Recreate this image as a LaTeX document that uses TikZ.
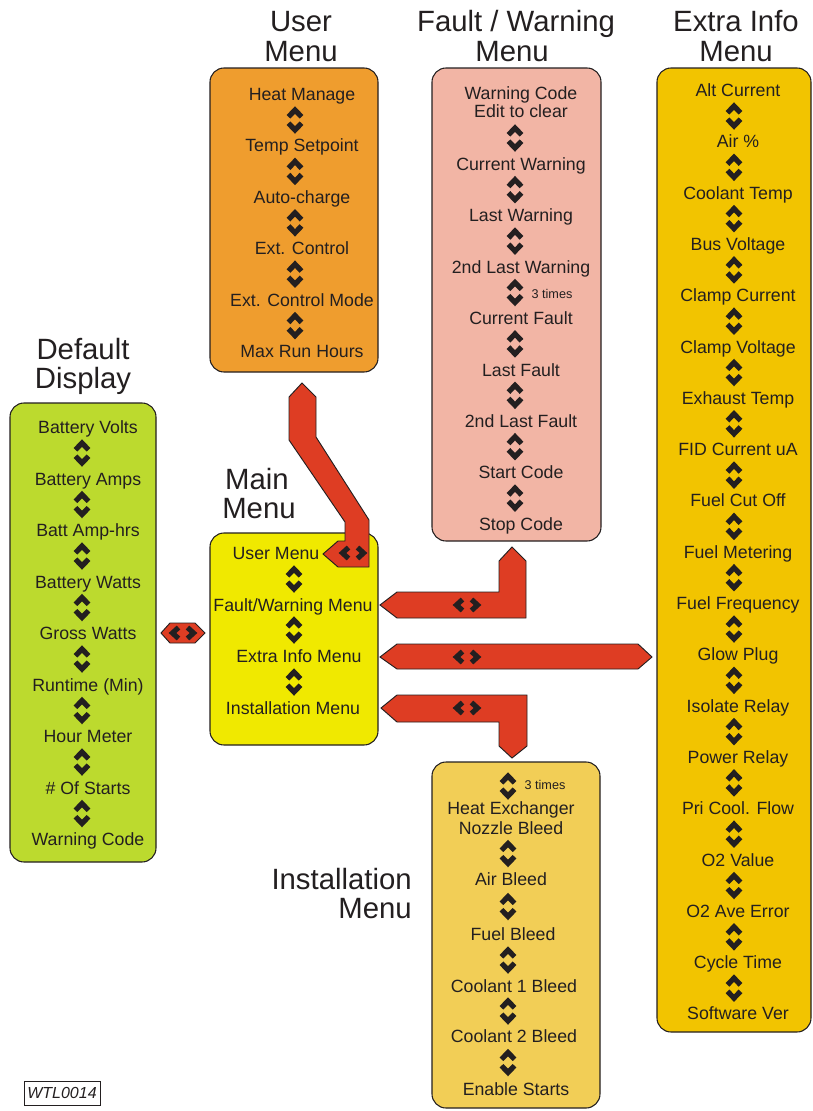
\documentclass[tikz,border=0pt]{standalone}
\usepackage{fontspec}
\setmainfont{Liberation Sans}
\definecolor{txt}{HTML}{231F20}
\definecolor{userC}{HTML}{EF9D2E}
\definecolor{faultC}{HTML}{F2B5A5}
\definecolor{extraC}{HTML}{F2C400}
\definecolor{defaultC}{HTML}{BCDA2E}
\definecolor{mainC}{HTML}{F0E900}
\definecolor{installC}{HTML}{F2CE56}
\definecolor{redC}{HTML}{DE3D23}
\tikzset{
  chev/.style={draw=txt,line width=3.9pt,line join=miter,miter limit=10,line cap=butt},
  ud/.pic={\draw[chev] (-6.5,-3.2)--(0,-10)--(6.5,-3.2); \draw[chev] (-6.5,3.2)--(0,10)--(6.5,3.2);},
  lr/.pic={\draw[chev] (-4.5,-5.5)--(-10.5,0)--(-4.5,5.5); \draw[chev] (4.5,-5.5)--(10.5,0)--(4.5,5.5);}
}
\begin{document}
\begin{tikzpicture}[x=0.75pt,y=-0.75pt,
 box/.style={draw=txt,line width=0.8pt,rounded corners=10.5pt},
 item/.style={font=\fontsize{13.3}{15}\selectfont,text=txt,inner sep=0pt,anchor=base,yshift=-4.9pt},
 head/.style={font=\fontsize{22}{24}\selectfont,text=txt,inner sep=0pt,anchor=base},
 small/.style={font=\fontsize{9.5}{11}\selectfont,text=txt,inner sep=0pt},
 redsh/.style={fill=redC,draw=txt,line width=0.7pt,line join=miter}]
\useasboundingbox (0,0) rectangle (813,1111);

% ---------- boxes ----------
\path[box,fill=userC]    (210,68)  rectangle (378,372);
\path[box,fill=faultC]   (432,68)  rectangle (601,541);
\path[box,fill=extraC]   (657,68)  rectangle (811,1032);
\path[box,fill=defaultC] (10,403)  rectangle (156,862);
\path[box,fill=mainC]    (210,533) rectangle (378,745);
\path[box,fill=installC] (432,762) rectangle (600,1108);

% ---------- headings ----------
\node[head] (hU1) at (301,31) {User};
\node[head] (hU2) at (301,61) {Menu};
\node[head] (hF1) at (516,31) {Fault / Warning};
\node[head] (hF2) at (512,61) {Menu};
\node[head] (hE1) at (736,31) {Extra Info};
\node[head] (hE2) at (736,61) {Menu};
\node[head] (hD1) at (83,359) {Default};
\node[head] (hD2) at (83,388) {Display};
\node[head] (hM1) at (257,489) {Main};
\node[head] (hM2) at (259,518) {Menu};
\node[head,anchor=base east] (hI1) at (412,889) {Installation};
\node[head,anchor=base east] (hI2) at (412,918) {Menu};

% ---------- User menu ----------
\foreach \t [count=\i from 0] in {Heat Manage,Temp Setpoint,Auto-charge,Ext. Control,Ext. Control Mode,Max Run Hours}
  \node[item] (u\i) at (302,94+51.4*\i) {\t};
\foreach \i in {0,...,4} \pic at (295,120+51.4*\i) {ud};

% ---------- Fault / Warning menu ----------
\node[item] (f0a) at (521,93) {Warning Code};
\node[item] (f0b) at (521,111) {Edit to clear};
\foreach \t [count=\i from 1] in {Current Warning,Last Warning,2nd Last Warning,Current Fault,Last Fault,2nd Last Fault,Start Code,Stop Code}
  \node[item] (f\i) at (521,164+51.4*\i-51.4) {\t};
\pic at (515,138) {ud};
\foreach \i in {0,...,6} \pic at (515,189.7+51.4*\i) {ud};
\node[small] (ft) at (552,294) {3 times};

% ---------- Extra Info menu ----------
\foreach \t [count=\i from 0] in {Alt Current,Air \%,Coolant Temp,Bus Voltage,Clamp Current,Clamp Voltage,Exhaust Temp,FID Current uA,Fuel Cut Off,Fuel Metering,Fuel Frequency,Glow Plug,Isolate Relay,Power Relay,Pri Cool. Flow,O2 Value,O2 Ave Error,Cycle Time,Software Ver}
  \node[item] (e\i) at (738,90+51.3*\i) {\t};
\foreach \i in {0,...,17} \pic at (734,116+51.3*\i) {ud};

% ---------- Default display ----------
\foreach \t [count=\i from 0] in {Battery Volts,Battery Amps,Batt Amp-hrs,Battery Watts,Gross Watts,Runtime (Min),Hour Meter,\# Of Starts,Warning Code}
  \node[item] (d\i) at (88,427+51.5*\i) {\t};
\foreach \i in {0,...,7} \pic at (82,453+51.5*\i) {ud};

% ---------- Main menu ----------
\node[item] (m0) at (276,553) {User Menu};
\node[item] (m1) at (293,605) {Fault/Warning Menu};
\node[item] (m2) at (299,656) {Extra Info Menu};
\node[item] (m3) at (293,708) {Installation Menu};
\foreach \y in {579,630,682} \pic at (294,\y) {ud};

% ---------- Installation menu ----------
\pic at (508,786) {ud};
\node[small] (it) at (545,785) {3 times};
\node[item] (i0a) at (511,808) {Heat Exchanger};
\node[item] (i0b) at (511,828) {Nozzle Bleed};
\node[item] (i1) at (511,879) {Air Bleed};
\node[item] (i2) at (513,934) {Fuel Bleed};
\node[item] (i3) at (514,986) {Coolant 1 Bleed};
\node[item] (i4) at (514,1036) {Coolant 2 Bleed};
\node[item] (i5) at (516,1089) {Enable Starts};
\foreach \y in {853.5,906.5,960,1011,1062.5} \pic at (508,\y) {ud};

% ---------- red connector shapes ----------
\draw[redsh] (302,383) -- (316,397) -- (316,437) -- (369,520) -- (369,567) -- (338,567)
  -- (323,554) -- (338,541) -- (345,541) -- (345,522) -- (289,440) -- (289,397) -- cycle;
\pic at (353,553) {lr};
\draw[redsh] (512,547) -- (526,561) -- (526,618) -- (397,618) -- (380,605) -- (397,592)
  -- (499,592) -- (499,561) -- cycle;
\pic at (467,605) {lr};
\draw[redsh] (380,657) -- (397,644) -- (638,644) -- (652,657) -- (638,669) -- (397,669) -- cycle;
\pic at (467,657) {lr};
\draw[redsh] (381,708) -- (397,695) -- (527,695) -- (527,746) -- (512,758) -- (499,746)
  -- (499,722) -- (397,722) -- cycle;
\pic at (467,708) {lr};
\draw[redsh] (161,633) -- (170,623) -- (195,623) -- (205,633) -- (195,643) -- (170,643) -- cycle;
\pic at (183,633) {lr};

% ---------- label ----------
\node[draw=txt,line width=0.6pt,inner sep=0pt,minimum width=57pt,minimum height=18pt,
      font=\itshape\fontsize{12}{12}\selectfont,text=txt] (wtl) at (62,1093) {WTL0014};
\end{tikzpicture}
\end{document}
